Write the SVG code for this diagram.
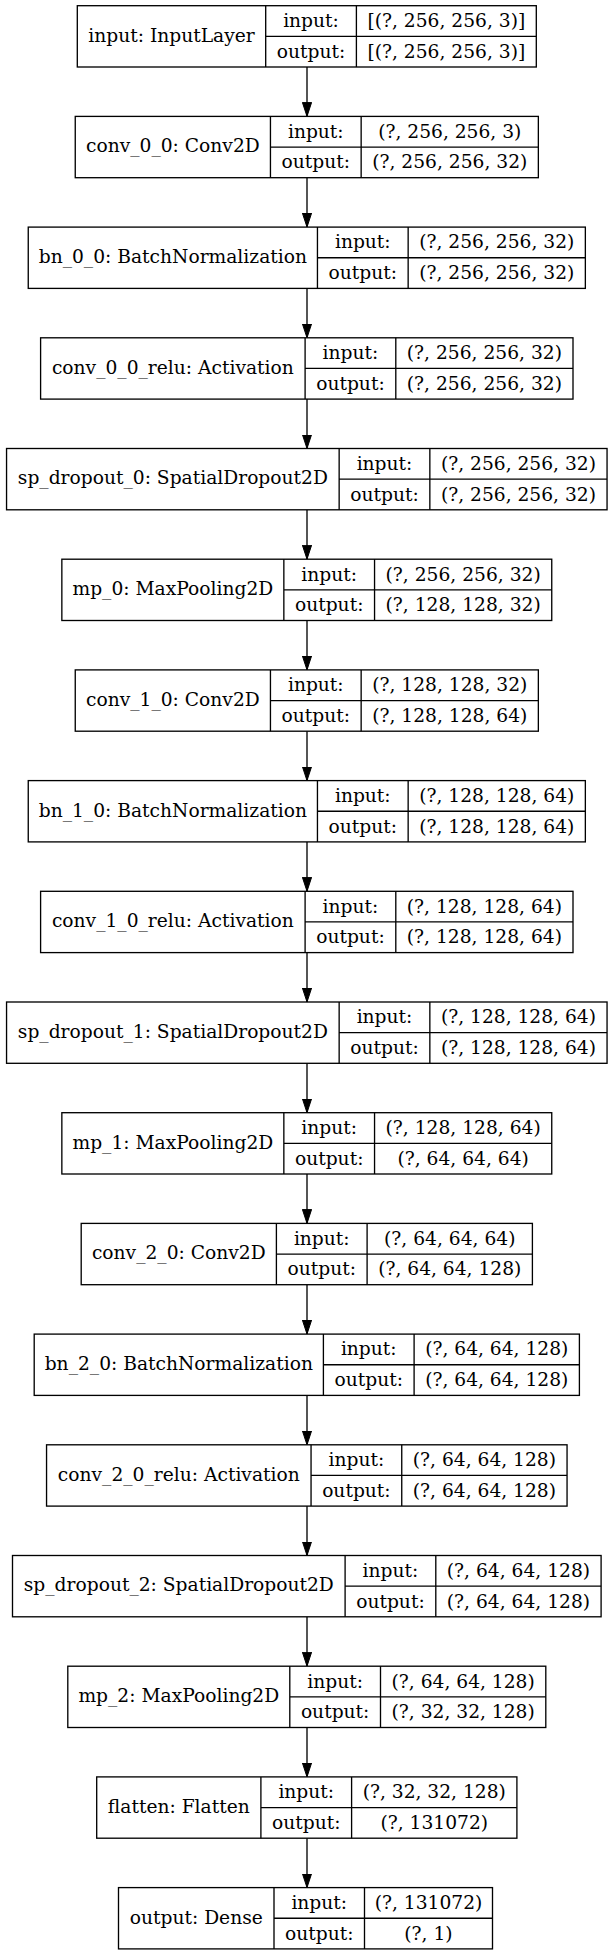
<svg xmlns="http://www.w3.org/2000/svg" width="613" height="1955" viewBox="0 0 613 1955">
<style>
.bx{fill:#fff;stroke:#000;stroke-width:1.33}
.ln{stroke:#000;stroke-width:1.33;fill:none}
text{font-family:"DejaVu Serif","Liberation Serif",serif;font-size:18.67px;fill:#000;text-anchor:middle}
.edge{stroke:#000;stroke-width:1.33;fill:none;marker-end:url(#ah)}
</style>
<defs>
<marker id="ah" viewBox="0 0 14 10" markerWidth="14" markerHeight="10" refX="14" refY="5" orient="auto" markerUnits="userSpaceOnUse">
<path d="M0,0.4 L14,5 L0,9.6 z" fill="#000" stroke="#000" stroke-width="1"/>
</marker>
</defs>
<rect width="613" height="1955" fill="#fff"/>
<g id="connectors">
<line class="edge" x1="307" y1="67" x2="307" y2="116.4"/>
<line class="edge" x1="307" y1="177.7" x2="307" y2="227.1"/>
<line class="edge" x1="307" y1="288.4" x2="307" y2="337.8"/>
<line class="edge" x1="307" y1="399.1" x2="307" y2="448.5"/>
<line class="edge" x1="307" y1="509.8" x2="307" y2="559.2"/>
<line class="edge" x1="307" y1="620.5" x2="307" y2="669.9"/>
<line class="edge" x1="307" y1="731.2" x2="307" y2="780.6"/>
<line class="edge" x1="307" y1="841.9" x2="307" y2="891.3"/>
<line class="edge" x1="307" y1="952.6" x2="307" y2="1002"/>
<line class="edge" x1="307" y1="1063.3" x2="307" y2="1112.7"/>
<line class="edge" x1="307" y1="1174" x2="307" y2="1223.4"/>
<line class="edge" x1="307" y1="1284.7" x2="307" y2="1334.1"/>
<line class="edge" x1="307" y1="1395.4" x2="307" y2="1444.8"/>
<line class="edge" x1="307" y1="1506.1" x2="307" y2="1555.5"/>
<line class="edge" x1="307" y1="1616.8" x2="307" y2="1666.2"/>
<line class="edge" x1="307" y1="1727.5" x2="307" y2="1776.9"/>
<line class="edge" x1="307" y1="1838.2" x2="307" y2="1887.6"/>
</g>

<g id="input">
<rect class="bx" x="77.3" y="5.7" width="459" height="61.3"/>
<path class="ln" d="M265.7,5.7V67M356.4,5.7V67M265.7,36.35H536.3"/>
<text x="171.5" y="41.6">input: InputLayer</text>
<text x="311" y="27">input:</text>
<text x="311" y="57.7">output:</text>
<text x="446.35" y="27">[(?, 256, 256, 3)]</text>
<text x="446.35" y="57.7">[(?, 256, 256, 3)]</text>
</g>

<g id="conv_0_0">
<rect class="bx" x="75.25" y="116.4" width="463.1" height="61.3"/>
<path class="ln" d="M270.45,116.4V177.7M361.15,116.4V177.7M270.45,147.05H538.35"/>
<text x="172.85" y="152.3">conv_0_0: Conv2D</text>
<text x="315.8" y="137.7">input:</text>
<text x="315.8" y="168.4">output:</text>
<text x="449.75" y="137.7">(?, 256, 256, 3)</text>
<text x="449.75" y="168.4">(?, 256, 256, 32)</text>
</g>

<g id="bn_0_0">
<rect class="bx" x="28.25" y="227.1" width="557.1" height="61.3"/>
<path class="ln" d="M317.45,227.1V288.4M408.15,227.1V288.4M317.45,257.75H585.35"/>
<text x="172.85" y="263">bn_0_0: BatchNormalization</text>
<text x="362.8" y="248.4">input:</text>
<text x="362.8" y="279.1">output:</text>
<text x="496.75" y="248.4">(?, 256, 256, 32)</text>
<text x="496.75" y="279.1">(?, 256, 256, 32)</text>
</g>

<g id="conv_0_0_relu">
<rect class="bx" x="40.6" y="337.8" width="532.4" height="61.3"/>
<path class="ln" d="M305.1,337.8V399.1M395.8,337.8V399.1M305.1,368.45H573"/>
<text x="172.85" y="373.7">conv_0_0_relu: Activation</text>
<text x="350.45" y="359.1">input:</text>
<text x="350.45" y="389.8">output:</text>
<text x="484.4" y="359.1">(?, 256, 256, 32)</text>
<text x="484.4" y="389.8">(?, 256, 256, 32)</text>
</g>

<g id="sp_dropout_0">
<rect class="bx" x="6.55" y="448.5" width="600.5" height="61.3"/>
<path class="ln" d="M339.15,448.5V509.8M429.85,448.5V509.8M339.15,479.15H607.05"/>
<text x="172.85" y="484.4">sp_dropout_0: SpatialDropout2D</text>
<text x="384.5" y="469.8">input:</text>
<text x="384.5" y="500.5">output:</text>
<text x="518.45" y="469.8">(?, 256, 256, 32)</text>
<text x="518.45" y="500.5">(?, 256, 256, 32)</text>
</g>

<g id="mp_0">
<rect class="bx" x="61.85" y="559.2" width="489.9" height="61.3"/>
<path class="ln" d="M283.85,559.2V620.5M374.55,559.2V620.5M283.85,589.85H551.75"/>
<text x="172.85" y="595.1">mp_0: MaxPooling2D</text>
<text x="329.2" y="580.5">input:</text>
<text x="329.2" y="611.2">output:</text>
<text x="463.15" y="580.5">(?, 256, 256, 32)</text>
<text x="463.15" y="611.2">(?, 128, 128, 32)</text>
</g>

<g id="conv_1_0">
<rect class="bx" x="75.25" y="669.9" width="463.1" height="61.3"/>
<path class="ln" d="M270.45,669.9V731.2M361.15,669.9V731.2M270.45,700.55H538.35"/>
<text x="172.85" y="705.8">conv_1_0: Conv2D</text>
<text x="315.8" y="691.2">input:</text>
<text x="315.8" y="721.9">output:</text>
<text x="449.75" y="691.2">(?, 128, 128, 32)</text>
<text x="449.75" y="721.9">(?, 128, 128, 64)</text>
</g>

<g id="bn_1_0">
<rect class="bx" x="28.25" y="780.6" width="557.1" height="61.3"/>
<path class="ln" d="M317.45,780.6V841.9M408.15,780.6V841.9M317.45,811.25H585.35"/>
<text x="172.85" y="816.5">bn_1_0: BatchNormalization</text>
<text x="362.8" y="801.9">input:</text>
<text x="362.8" y="832.6">output:</text>
<text x="496.75" y="801.9">(?, 128, 128, 64)</text>
<text x="496.75" y="832.6">(?, 128, 128, 64)</text>
</g>

<g id="conv_1_0_relu">
<rect class="bx" x="40.6" y="891.3" width="532.4" height="61.3"/>
<path class="ln" d="M305.1,891.3V952.6M395.8,891.3V952.6M305.1,921.95H573"/>
<text x="172.85" y="927.2">conv_1_0_relu: Activation</text>
<text x="350.45" y="912.6">input:</text>
<text x="350.45" y="943.3">output:</text>
<text x="484.4" y="912.6">(?, 128, 128, 64)</text>
<text x="484.4" y="943.3">(?, 128, 128, 64)</text>
</g>

<g id="sp_dropout_1">
<rect class="bx" x="6.55" y="1002" width="600.5" height="61.3"/>
<path class="ln" d="M339.15,1002V1063.3M429.85,1002V1063.3M339.15,1032.65H607.05"/>
<text x="172.85" y="1037.9">sp_dropout_1: SpatialDropout2D</text>
<text x="384.5" y="1023.3">input:</text>
<text x="384.5" y="1054">output:</text>
<text x="518.45" y="1023.3">(?, 128, 128, 64)</text>
<text x="518.45" y="1054">(?, 128, 128, 64)</text>
</g>

<g id="mp_1">
<rect class="bx" x="61.85" y="1112.7" width="489.9" height="61.3"/>
<path class="ln" d="M283.85,1112.7V1174M374.55,1112.7V1174M283.85,1143.35H551.75"/>
<text x="172.85" y="1148.6">mp_1: MaxPooling2D</text>
<text x="329.2" y="1134">input:</text>
<text x="329.2" y="1164.7">output:</text>
<text x="463.15" y="1134">(?, 128, 128, 64)</text>
<text x="463.15" y="1164.7">(?, 64, 64, 64)</text>
</g>

<g id="conv_2_0">
<rect class="bx" x="81.2" y="1223.4" width="451.2" height="61.3"/>
<path class="ln" d="M276.4,1223.4V1284.7M367.1,1223.4V1284.7M276.4,1254.05H532.4"/>
<text x="178.8" y="1259.3">conv_2_0: Conv2D</text>
<text x="321.75" y="1244.7">input:</text>
<text x="321.75" y="1275.4">output:</text>
<text x="449.75" y="1244.7">(?, 64, 64, 64)</text>
<text x="449.75" y="1275.4">(?, 64, 64, 128)</text>
</g>

<g id="bn_2_0">
<rect class="bx" x="34.2" y="1334.1" width="545.2" height="61.3"/>
<path class="ln" d="M323.4,1334.1V1395.4M414.1,1334.1V1395.4M323.4,1364.75H579.4"/>
<text x="178.8" y="1370">bn_2_0: BatchNormalization</text>
<text x="368.75" y="1355.4">input:</text>
<text x="368.75" y="1386.1">output:</text>
<text x="496.75" y="1355.4">(?, 64, 64, 128)</text>
<text x="496.75" y="1386.1">(?, 64, 64, 128)</text>
</g>

<g id="conv_2_0_relu">
<rect class="bx" x="46.55" y="1444.8" width="520.5" height="61.3"/>
<path class="ln" d="M311.05,1444.8V1506.1M401.75,1444.8V1506.1M311.05,1475.45H567.05"/>
<text x="178.8" y="1480.7">conv_2_0_relu: Activation</text>
<text x="356.4" y="1466.1">input:</text>
<text x="356.4" y="1496.8">output:</text>
<text x="484.4" y="1466.1">(?, 64, 64, 128)</text>
<text x="484.4" y="1496.8">(?, 64, 64, 128)</text>
</g>

<g id="sp_dropout_2">
<rect class="bx" x="12.5" y="1555.5" width="588.6" height="61.3"/>
<path class="ln" d="M345.1,1555.5V1616.8M435.8,1555.5V1616.8M345.1,1586.15H601.1"/>
<text x="178.8" y="1591.4">sp_dropout_2: SpatialDropout2D</text>
<text x="390.45" y="1576.8">input:</text>
<text x="390.45" y="1607.5">output:</text>
<text x="518.45" y="1576.8">(?, 64, 64, 128)</text>
<text x="518.45" y="1607.5">(?, 64, 64, 128)</text>
</g>

<g id="mp_2">
<rect class="bx" x="67.8" y="1666.2" width="478" height="61.3"/>
<path class="ln" d="M289.8,1666.2V1727.5M380.5,1666.2V1727.5M289.8,1696.85H545.8"/>
<text x="178.8" y="1702.1">mp_2: MaxPooling2D</text>
<text x="335.15" y="1687.5">input:</text>
<text x="335.15" y="1718.2">output:</text>
<text x="463.15" y="1687.5">(?, 64, 64, 128)</text>
<text x="463.15" y="1718.2">(?, 32, 32, 128)</text>
</g>

<g id="flatten">
<rect class="bx" x="96.7" y="1776.9" width="420.2" height="61.3"/>
<path class="ln" d="M260.9,1776.9V1838.2M351.6,1776.9V1838.2M260.9,1807.55H516.9"/>
<text x="178.8" y="1812.8">flatten: Flatten</text>
<text x="306.25" y="1798.2">input:</text>
<text x="306.25" y="1828.9">output:</text>
<text x="434.25" y="1798.2">(?, 32, 32, 128)</text>
<text x="434.25" y="1828.9">(?, 131072)</text>
</g>

<g id="output">
<rect class="bx" x="118.5" y="1887.6" width="374" height="61.3"/>
<path class="ln" d="M274,1887.6V1948.9M364.5,1887.6V1948.9M274,1918.25H492.5"/>
<text x="196.25" y="1923.5">output: Dense</text>
<text x="319.25" y="1908.9">input:</text>
<text x="319.25" y="1939.6">output:</text>
<text x="428.5" y="1908.9">(?, 131072)</text>
<text x="428.5" y="1939.6">(?, 1)</text>
</g>
</svg>
